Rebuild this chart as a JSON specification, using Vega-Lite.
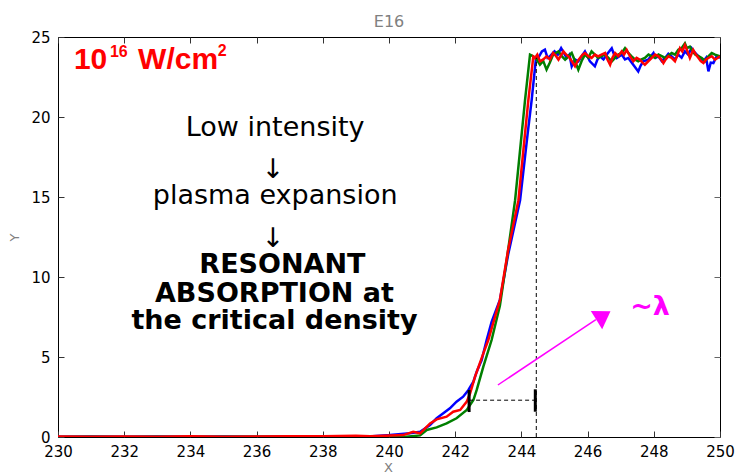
{
  "$schema": "https://vega.github.io/schema/vega-lite/v6.json",
  "autosize": "none",
  "width": 662,
  "height": 400,
  "padding": {"left": 58, "top": 37, "right": 16, "bottom": 36},
  "background": "white",
  "config": {
    "view": {"stroke": "black", "strokeWidth": 1},
    "font": "DejaVu Sans"
  },
  "title": {"text": "E16", "color": "#808080", "fontSize": 16, "font": "DejaVu Sans", "fontWeight": "normal", "offset": -13, "baseline": "alphabetic", "anchor": "middle"},
  "datasets": {
    "series": [
      {"s": "1", "x": 230, "y": 0.02}, {"s": "1", "x": 231, "y": 0.03}, {"s": "1", "x": 232, "y": 0.02}, {"s": "1", "x": 233, "y": 0.03}, {"s": "1", "x": 234, "y": 0.02}, {"s": "1", "x": 235, "y": 0.03}, {"s": "1", "x": 236, "y": 0.02}, {"s": "1", "x": 237, "y": 0.03}, {"s": "1", "x": 238, "y": 0.04}, {"s": "1", "x": 239, "y": 0.05}, {"s": "1", "x": 239.5, "y": 0.05},
      {"s": "1", "x": 240.03, "y": 0.12}, {"s": "1", "x": 240.63, "y": 0.23}, {"s": "1", "x": 240.94, "y": 0.33}, {"s": "1", "x": 241.24, "y": 0.75}, {"s": "1", "x": 241.44, "y": 1.17}, {"s": "1", "x": 241.64, "y": 1.48}, {"s": "1", "x": 241.84, "y": 1.79}, {"s": "1", "x": 242.04, "y": 2.21}, {"s": "1", "x": 242.24, "y": 2.52}, {"s": "1", "x": 242.4, "y": 2.94}, {"s": "1", "x": 242.55, "y": 3.46}, {"s": "1", "x": 242.65, "y": 4.08}, {"s": "1", "x": 242.8, "y": 4.81}, {"s": "1", "x": 242.95, "y": 6.06}, {"s": "1", "x": 243.1, "y": 7.2}, {"s": "1", "x": 243.35, "y": 8.56}, {"s": "1", "x": 243.6, "y": 11.4}, {"s": "1", "x": 243.96, "y": 14.8}, {"s": "1", "x": 244.19, "y": 18.98}, {"s": "1", "x": 244.31, "y": 21.06}, {"s": "1", "x": 244.44, "y": 23.67},
      {"s": "1", "x": 244.51, "y": 23.69}, {"s": "1", "x": 244.62, "y": 24.1}, {"s": "1", "x": 244.71, "y": 24.21}, {"s": "1", "x": 244.79, "y": 23.7}, {"s": "1", "x": 244.86, "y": 23.79}, {"s": "1", "x": 245.0, "y": 24.1}, {"s": "1", "x": 245.1, "y": 23.9}, {"s": "1", "x": 245.2, "y": 24.3}, {"s": "1", "x": 245.37, "y": 23.69}, {"s": "1", "x": 245.45, "y": 23.9}, {"s": "1", "x": 245.52, "y": 23.17}, {"s": "1", "x": 245.62, "y": 23.6}, {"s": "1", "x": 245.72, "y": 23.48}, {"s": "1", "x": 245.82, "y": 23.8}, {"s": "1", "x": 245.92, "y": 24.1}, {"s": "1", "x": 246.07, "y": 23.48}, {"s": "1", "x": 246.22, "y": 23.17}, {"s": "1", "x": 246.3, "y": 23.6}, {"s": "1", "x": 246.37, "y": 23.79}, {"s": "1", "x": 246.48, "y": 23.6}, {"s": "1", "x": 246.58, "y": 23.9}, {"s": "1", "x": 246.73, "y": 24.3}, {"s": "1", "x": 246.8, "y": 23.9}, {"s": "1", "x": 246.88, "y": 23.69}, {"s": "1", "x": 247.03, "y": 23.9}, {"s": "1", "x": 247.13, "y": 23.6}, {"s": "1", "x": 247.23, "y": 23.69}, {"s": "1", "x": 247.38, "y": 23.27}, {"s": "1", "x": 247.53, "y": 22.85}, {"s": "1", "x": 247.6, "y": 23.2}, {"s": "1", "x": 247.68, "y": 23.48}, {"s": "1", "x": 247.83, "y": 23.58}, {"s": "1", "x": 247.99, "y": 24.0}, {"s": "1", "x": 248.05, "y": 23.7}, {"s": "1", "x": 248.14, "y": 23.79}, {"s": "1", "x": 248.24, "y": 23.5}, {"s": "1", "x": 248.34, "y": 23.69}, {"s": "1", "x": 248.44, "y": 23.95}, {"s": "1", "x": 248.54, "y": 23.79}, {"s": "1", "x": 248.64, "y": 23.6}, {"s": "1", "x": 248.74, "y": 23.9}, {"s": "1", "x": 248.84, "y": 23.7}, {"s": "1", "x": 248.94, "y": 24.1}, {"s": "1", "x": 249.04, "y": 23.9}, {"s": "1", "x": 249.14, "y": 24.3}, {"s": "1", "x": 249.25, "y": 24.0}, {"s": "1", "x": 249.35, "y": 23.79}, {"s": "1", "x": 249.5, "y": 23.48}, {"s": "1", "x": 249.58, "y": 23.7}, {"s": "1", "x": 249.65, "y": 22.85}, {"s": "1", "x": 249.72, "y": 23.4}, {"s": "1", "x": 249.8, "y": 23.37}, {"s": "1", "x": 249.9, "y": 23.8}, {"s": "1", "x": 250.0, "y": 23.69},

      {"s": "2", "x": 230, "y": 0.0}, {"s": "2", "x": 231, "y": 0.01}, {"s": "2", "x": 232, "y": 0.0}, {"s": "2", "x": 233, "y": 0.01}, {"s": "2", "x": 234, "y": 0.0}, {"s": "2", "x": 235, "y": 0.01}, {"s": "2", "x": 236, "y": 0.02}, {"s": "2", "x": 237, "y": 0.01}, {"s": "2", "x": 238, "y": 0.02}, {"s": "2", "x": 239, "y": 0.02}, {"s": "2", "x": 240.43, "y": 0.0},
      {"s": "2", "x": 240.94, "y": 0.1}, {"s": "2", "x": 241.14, "y": 0.44}, {"s": "2", "x": 241.44, "y": 0.6}, {"s": "2", "x": 241.74, "y": 0.85}, {"s": "2", "x": 242.04, "y": 1.17}, {"s": "2", "x": 242.35, "y": 1.69}, {"s": "2", "x": 242.55, "y": 2.31}, {"s": "2", "x": 242.65, "y": 2.94}, {"s": "2", "x": 242.85, "y": 4.4}, {"s": "2", "x": 243.1, "y": 6.06}, {"s": "2", "x": 243.35, "y": 8.2}, {"s": "2", "x": 243.6, "y": 11.7}, {"s": "2", "x": 243.81, "y": 14.8}, {"s": "2", "x": 244.01, "y": 18.98}, {"s": "2", "x": 244.11, "y": 21.06}, {"s": "2", "x": 244.26, "y": 23.9},
      {"s": "2", "x": 244.36, "y": 23.79}, {"s": "2", "x": 244.46, "y": 23.6}, {"s": "2", "x": 244.56, "y": 23.27}, {"s": "2", "x": 244.66, "y": 23.5}, {"s": "2", "x": 244.76, "y": 22.96}, {"s": "2", "x": 244.86, "y": 23.4}, {"s": "2", "x": 244.96, "y": 23.9}, {"s": "2", "x": 245.12, "y": 24.1}, {"s": "2", "x": 245.22, "y": 23.8}, {"s": "2", "x": 245.32, "y": 23.58}, {"s": "2", "x": 245.42, "y": 23.8}, {"s": "2", "x": 245.52, "y": 24.0}, {"s": "2", "x": 245.62, "y": 23.5}, {"s": "2", "x": 245.72, "y": 22.96}, {"s": "2", "x": 245.82, "y": 23.5}, {"s": "2", "x": 245.92, "y": 23.9}, {"s": "2", "x": 246.02, "y": 23.7}, {"s": "2", "x": 246.12, "y": 24.1}, {"s": "2", "x": 246.22, "y": 23.9}, {"s": "2", "x": 246.32, "y": 23.69}, {"s": "2", "x": 246.42, "y": 23.8}, {"s": "2", "x": 246.53, "y": 23.9}, {"s": "2", "x": 246.63, "y": 23.7}, {"s": "2", "x": 246.73, "y": 23.48}, {"s": "2", "x": 246.83, "y": 23.7}, {"s": "2", "x": 246.93, "y": 23.9}, {"s": "2", "x": 247.03, "y": 24.0}, {"s": "2", "x": 247.13, "y": 24.3}, {"s": "2", "x": 247.23, "y": 24.0}, {"s": "2", "x": 247.33, "y": 23.79}, {"s": "2", "x": 247.43, "y": 23.6}, {"s": "2", "x": 247.53, "y": 23.48}, {"s": "2", "x": 247.63, "y": 23.6}, {"s": "2", "x": 247.73, "y": 23.69}, {"s": "2", "x": 247.84, "y": 23.9}, {"s": "2", "x": 247.94, "y": 23.79}, {"s": "2", "x": 248.04, "y": 23.7}, {"s": "2", "x": 248.14, "y": 23.9}, {"s": "2", "x": 248.24, "y": 23.8}, {"s": "2", "x": 248.34, "y": 23.69}, {"s": "2", "x": 248.44, "y": 23.85}, {"s": "2", "x": 248.54, "y": 24.0}, {"s": "2", "x": 248.64, "y": 23.9}, {"s": "2", "x": 248.74, "y": 24.2}, {"s": "2", "x": 248.84, "y": 24.3}, {"s": "2", "x": 248.94, "y": 24.6}, {"s": "2", "x": 249.0, "y": 24.3}, {"s": "2", "x": 249.09, "y": 24.4}, {"s": "2", "x": 249.17, "y": 24.1}, {"s": "2", "x": 249.25, "y": 23.9}, {"s": "2", "x": 249.35, "y": 23.8}, {"s": "2", "x": 249.45, "y": 23.69}, {"s": "2", "x": 249.55, "y": 23.5}, {"s": "2", "x": 249.65, "y": 23.79}, {"s": "2", "x": 249.75, "y": 24.0}, {"s": "2", "x": 249.85, "y": 23.9}, {"s": "2", "x": 250.0, "y": 23.79},

      {"s": "3", "x": 230, "y": 0.03}, {"s": "3", "x": 231, "y": 0.02}, {"s": "3", "x": 232, "y": 0.03}, {"s": "3", "x": 233, "y": 0.02}, {"s": "3", "x": 234, "y": 0.04}, {"s": "3", "x": 235, "y": 0.02}, {"s": "3", "x": 236, "y": 0.03}, {"s": "3", "x": 237, "y": 0.05}, {"s": "3", "x": 238, "y": 0.04}, {"s": "3", "x": 239, "y": 0.08}, {"s": "3", "x": 239.43, "y": 0.04},
      {"s": "3", "x": 240.43, "y": 0.12}, {"s": "3", "x": 240.73, "y": 0.33}, {"s": "3", "x": 240.94, "y": 0.23}, {"s": "3", "x": 241.24, "y": 0.85}, {"s": "3", "x": 241.44, "y": 1.1}, {"s": "3", "x": 241.74, "y": 1.27}, {"s": "3", "x": 241.94, "y": 1.58}, {"s": "3", "x": 242.15, "y": 1.69}, {"s": "3", "x": 242.35, "y": 2.21}, {"s": "3", "x": 242.45, "y": 2.73}, {"s": "3", "x": 242.6, "y": 3.77}, {"s": "3", "x": 242.85, "y": 5.23}, {"s": "3", "x": 243.0, "y": 6.06}, {"s": "3", "x": 243.35, "y": 8.56}, {"s": "3", "x": 243.6, "y": 11.7}, {"s": "3", "x": 243.91, "y": 14.8}, {"s": "3", "x": 244.11, "y": 18.98}, {"s": "3", "x": 244.21, "y": 21.06}, {"s": "3", "x": 244.36, "y": 23.77},
      {"s": "3", "x": 244.41, "y": 23.69}, {"s": "3", "x": 244.48, "y": 23.9}, {"s": "3", "x": 244.56, "y": 23.48}, {"s": "3", "x": 244.66, "y": 23.6}, {"s": "3", "x": 244.76, "y": 23.79}, {"s": "3", "x": 244.86, "y": 23.6}, {"s": "3", "x": 244.96, "y": 24.0}, {"s": "3", "x": 245.05, "y": 23.8}, {"s": "3", "x": 245.12, "y": 23.58}, {"s": "3", "x": 245.27, "y": 24.1}, {"s": "3", "x": 245.35, "y": 23.9}, {"s": "3", "x": 245.42, "y": 23.79}, {"s": "3", "x": 245.52, "y": 23.5}, {"s": "3", "x": 245.62, "y": 23.17}, {"s": "3", "x": 245.7, "y": 23.5}, {"s": "3", "x": 245.77, "y": 23.69}, {"s": "3", "x": 245.85, "y": 23.9}, {"s": "3", "x": 245.92, "y": 24.0}, {"s": "3", "x": 246.02, "y": 23.8}, {"s": "3", "x": 246.12, "y": 23.69}, {"s": "3", "x": 246.22, "y": 23.9}, {"s": "3", "x": 246.32, "y": 23.79}, {"s": "3", "x": 246.42, "y": 23.9}, {"s": "3", "x": 246.53, "y": 24.0}, {"s": "3", "x": 246.6, "y": 23.6}, {"s": "3", "x": 246.68, "y": 23.27}, {"s": "3", "x": 246.75, "y": 23.7}, {"s": "3", "x": 246.83, "y": 24.0}, {"s": "3", "x": 246.93, "y": 23.8}, {"s": "3", "x": 247.03, "y": 24.1}, {"s": "3", "x": 247.1, "y": 23.9}, {"s": "3", "x": 247.18, "y": 24.2}, {"s": "3", "x": 247.28, "y": 23.8}, {"s": "3", "x": 247.38, "y": 23.48}, {"s": "3", "x": 247.48, "y": 23.7}, {"s": "3", "x": 247.58, "y": 23.58}, {"s": "3", "x": 247.66, "y": 23.4}, {"s": "3", "x": 247.73, "y": 23.27}, {"s": "3", "x": 247.84, "y": 23.5}, {"s": "3", "x": 247.94, "y": 23.69}, {"s": "3", "x": 248.04, "y": 23.9}, {"s": "3", "x": 248.14, "y": 23.79}, {"s": "3", "x": 248.22, "y": 23.6}, {"s": "3", "x": 248.29, "y": 23.37}, {"s": "3", "x": 248.36, "y": 23.6}, {"s": "3", "x": 248.44, "y": 23.79}, {"s": "3", "x": 248.54, "y": 23.7}, {"s": "3", "x": 248.64, "y": 23.48}, {"s": "3", "x": 248.72, "y": 23.9}, {"s": "3", "x": 248.79, "y": 24.3}, {"s": "3", "x": 248.86, "y": 24.1}, {"s": "3", "x": 248.94, "y": 24.5}, {"s": "3", "x": 249.02, "y": 24.1}, {"s": "3", "x": 249.09, "y": 23.69}, {"s": "3", "x": 249.19, "y": 24.2}, {"s": "3", "x": 249.27, "y": 23.9}, {"s": "3", "x": 249.35, "y": 23.69}, {"s": "3", "x": 249.42, "y": 23.5}, {"s": "3", "x": 249.5, "y": 23.37}, {"s": "3", "x": 249.58, "y": 23.6}, {"s": "3", "x": 249.65, "y": 23.69}, {"s": "3", "x": 249.75, "y": 23.8}, {"s": "3", "x": 249.85, "y": 23.58}, {"s": "3", "x": 250.0, "y": 23.79}
    ]
  },
  "layer": [
    {
      "data": {"name": "series"},
      "mark": {"type": "line", "strokeWidth": 2.5, "clip": true, "interpolate": "linear"},
      "encoding": {
        "x": {"field": "x", "type": "quantitative", "scale": {"domain": [230, 250], "nice": false, "zero": false},
          "axis": {"orient": "bottom", "values": [230, 232, 234, 236, 238, 240, 242, 244, 246, 248, 250], "grid": false, "domain": false, "tickSize": -6, "tickColor": "#333333", "labelPadding": 13, "labelFlush": false, "labelFont": "DejaVu Sans", "labelFontSize": 15, "labelColor": "black", "labelBaseline": "top", "title": "X", "titleColor": "#808080", "titleFont": "DejaVu Sans", "titleFontSize": 13, "titleFontWeight": "normal", "titleX": 330, "titleY": 34, "titleBaseline": "alphabetic", "titleAnchor": null}},
        "y": {"field": "y", "type": "quantitative", "scale": {"domain": [0, 25], "nice": false},
          "axis": {"orient": "left", "values": [0, 5, 10, 15, 20, 25], "grid": false, "domain": false, "tickSize": -6, "tickColor": "#333333", "labelPadding": 14, "labelFlush": false, "labelFont": "DejaVu Sans", "labelFontSize": 15, "labelColor": "black", "title": "Y", "titleColor": "#808080", "titleFont": "DejaVu Sans", "titleFontSize": 13, "titleFontWeight": "normal", "titleX": -44, "titleY": 200, "titleBaseline": "middle", "titleAnchor": null}},
        "color": {"field": "s", "type": "nominal", "scale": {"domain": ["1", "2", "3"], "range": ["#0000FF", "#007F00", "#FF0000"]}, "legend": null}
      }
    },
    {
      "data": {"values": [{"x": 244.45, "y0": 0, "y1": 23.7}]},
      "mark": {"type": "rule", "color": "black", "strokeWidth": 1, "strokeDash": [4, 3]},
      "encoding": {
        "x": {"field": "x", "type": "quantitative", "scale": {"domain": [230, 250], "nice": false, "zero": false},
          "axis": {"orient": "top", "values": [230, 232, 234, 236, 238, 240, 242, 244, 246, 248, 250], "labels": false, "grid": false, "domain": false, "tickSize": -6, "tickColor": "#333333", "title": null}},
        "y": {"field": "y0", "type": "quantitative", "scale": {"domain": [0, 25], "nice": false},
          "axis": {"orient": "right", "values": [0, 5, 10, 15, 20, 25], "labels": false, "grid": false, "domain": false, "tickSize": -6, "tickColor": "#666666", "title": null}},
        "y2": {"field": "y1"}
      }
    },
    {
      "data": {"values": [{"x": 242.42, "x2": 244.42, "y": 2.3}]},
      "mark": {"type": "rule", "color": "black", "strokeWidth": 1, "strokeDash": [4, 3]},
      "encoding": {
        "x": {"field": "x", "type": "quantitative", "axis": null},
        "x2": {"field": "x2"},
        "y": {"field": "y", "type": "quantitative", "axis": null}
      }
    },
    {
      "data": {"values": [{"x": 242.42, "y": 1.56, "y2": 2.94}, {"x": 244.42, "y": 1.58, "y2": 2.98}]},
      "mark": {"type": "rule", "color": "black", "strokeWidth": 3},
      "encoding": {
        "x": {"field": "x", "type": "quantitative", "axis": null},
        "y": {"field": "y", "type": "quantitative", "axis": null},
        "y2": {"field": "y2"}
      }
    },
    {
      "data": {"values": [{"x": 243.29, "y": 3.25, "x2": 246.25, "y2": 7.34}]},
      "mark": {"type": "rule", "color": "#FF00FF", "strokeWidth": 1.5},
      "encoding": {
        "x": {"field": "x", "type": "quantitative", "axis": null},
        "y": {"field": "y", "type": "quantitative", "axis": null},
        "x2": {"field": "x2"},
        "y2": {"field": "y2"}
      }
    },
    {
      "data": {"values": [{"x": 246.48, "y": 7.58}]},
      "mark": {"type": "point", "shape": "M-1.3,1L0,-1L1.3,1Z", "size": 272, "angle": 58, "filled": true, "color": "#FF00FF", "opacity": 1},
      "encoding": {
        "x": {"field": "x", "type": "quantitative", "axis": null},
        "y": {"field": "y", "type": "quantitative", "axis": null}
      }
    },
    {
      "data": {"values": [{"x": 247.885, "y": 7.63, "t": "~λ"}]},
      "mark": {"type": "text", "color": "#FF00FF", "font": "DejaVu Sans", "fontSize": 27, "fontWeight": "bold", "align": "center", "baseline": "alphabetic"},
      "encoding": {
        "x": {"field": "x", "type": "quantitative", "axis": null},
        "y": {"field": "y", "type": "quantitative", "axis": null},
        "text": {"field": "t"}
      }
    },
    {
      "data": {"values": [
        {"x": 236.56, "y": 18.81, "t": "Low intensity"},
        {"x": 236.5, "y": 16.19, "t": "↓"},
        {"x": 236.56, "y": 14.56, "t": "plasma expansion"},
        {"x": 236.5, "y": 11.88, "t": "↓"}
      ]},
      "mark": {"type": "text", "color": "black", "font": "DejaVu Sans", "fontSize": 27, "fontWeight": "normal", "align": "center", "baseline": "alphabetic"},
      "encoding": {
        "x": {"field": "x", "type": "quantitative", "axis": null},
        "y": {"field": "y", "type": "quantitative", "axis": null},
        "text": {"field": "t"}
      }
    },
    {
      "data": {"values": [
        {"x": 236.78, "y": 10.25, "t": "RESONANT"},
        {"x": 236.54, "y": 8.41, "t": "ABSORPTION at"},
        {"x": 236.54, "y": 6.75, "t": "the critical density"}
      ]},
      "mark": {"type": "text", "color": "black", "font": "DejaVu Sans", "fontSize": 27, "fontWeight": "bold", "align": "center", "baseline": "alphabetic"},
      "encoding": {
        "x": {"field": "x", "type": "quantitative", "axis": null},
        "y": {"field": "y", "type": "quantitative", "axis": null},
        "text": {"field": "t"}
      }
    },
    {
      "data": {"values": [
        {"x": 230.48, "y": 23.0, "t": "10"},
        {"x": 232.42, "y": 23.0, "t": "W/cm"}
      ]},
      "mark": {"type": "text", "color": "#FF0000", "font": "Liberation Sans", "fontSize": 30, "fontWeight": "bold", "align": "left", "baseline": "alphabetic"},
      "encoding": {
        "x": {"field": "x", "type": "quantitative", "axis": null},
        "y": {"field": "y", "type": "quantitative", "axis": null},
        "text": {"field": "t"}
      }
    },
    {
      "data": {"values": [
        {"x": 231.57, "y": 23.75, "t": "16"},
        {"x": 234.83, "y": 23.84, "t": "2"}
      ]},
      "mark": {"type": "text", "color": "#FF0000", "font": "Liberation Sans", "fontSize": 16, "fontWeight": "bold", "align": "left", "baseline": "alphabetic"},
      "encoding": {
        "x": {"field": "x", "type": "quantitative", "axis": null},
        "y": {"field": "y", "type": "quantitative", "axis": null},
        "text": {"field": "t"}
      }
    }
  ],
  "resolve": {"axis": {"x": "independent", "y": "independent"}}
}
